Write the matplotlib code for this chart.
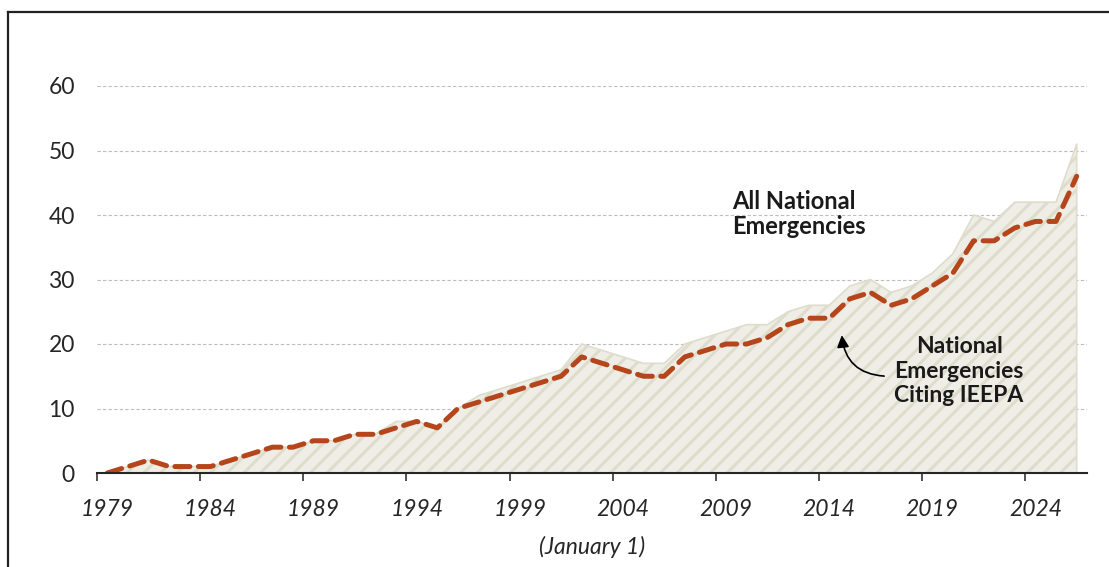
import matplotlib
matplotlib.use("Agg")
import matplotlib.pyplot as plt
import matplotlib.ticker as ticker
from matplotlib.lines import Line2D

plt.rcParams["font.family"] = ["Lato", "DejaVu Sans"]
plt.rcParams["hatch.linewidth"] = 2.2

# Active national emergencies on January 1 of each year
years = list(range(1979, 2027))
all_emergencies = [0, 1, 2, 1, 1, 1, 2, 3, 4, 4, 5, 5, 6, 6, 8, 8, 7, 10, 12, 13,
                   14, 15, 16, 20, 19, 18, 17, 17, 20, 21, 22, 23, 23, 25, 26, 26,
                   29, 30, 28, 29, 31, 34, 40, 39, 42, 42, 42, 51]
ieepa = [0, 1, 2, 1, 1, 1, 2, 3, 4, 4, 5, 5, 6, 6, 7, 8, 7, 10, 11, 12,
         13, 14, 15, 18, 17, 16, 15, 15, 18, 19, 20, 20, 21, 23, 24, 24,
         27, 28, 26, 27, 29, 31, 36, 36, 38, 39, 39, 46]
tick_years = list(range(1979, 2025, 5))
y_ticks = [0, 10, 20, 30, 40, 50, 60]

# points sit in the middle of each year's slot
x = [y + 0.5 for y in years]

fig = plt.figure(figsize=(11.09, 5.67), dpi=100)
ax = fig.add_axes([97 / 1109, 1 - 473 / 567, 990 / 1109, 387 / 567])

ax.fill_between(x, 0, all_emergencies, facecolor="#EFEEE6", edgecolor="#DEDDCD",
                hatch="//", linewidth=1.2, zorder=2)
ax.plot(x, ieepa, color="#B5461C", linewidth=3.6, linestyle=(0, (3, 1.7)),
        dash_capstyle="round", zorder=3)

ax.set_xlim(1979, 2027)
ax.set_ylim(0, 60)

# gridlines
ax.set_yticks(y_ticks)
ax.yaxis.grid(True, color="#BDBDBD", linewidth=0.8, linestyle=(0, (3, 2)))
ax.set_axisbelow(True)
ax.tick_params(axis="y", length=0, pad=16, labelsize=16.5, labelcolor="#262626")

# ticks at year boundaries, labels centred in slot
ax.set_xticks(tick_years)
ax.xaxis.set_major_formatter(ticker.NullFormatter())
ax.set_xticks([t + 0.5 for t in tick_years], minor=True)
ax.set_xticklabels([str(t) for t in tick_years], minor=True, fontstyle="italic")
ax.tick_params(axis="x", which="major", length=6, width=1.2, color="#333333")
ax.tick_params(axis="x", which="minor", length=0, pad=19, labelsize=16.5,
               labelcolor="#262626")
ax.set_xlabel("(January 1)", fontsize=16.5, fontstyle="italic", color="#262626",
              labelpad=11)

for side in ["left", "right", "top"]:
    ax.spines[side].set_visible(False)
ax.spines["bottom"].set_color("#262626")
ax.spines["bottom"].set_linewidth(1.5)
ax.spines["bottom"].set_zorder(4)

ax.text(2009.8, 40.1, "All National\nEmergencies", fontsize=17, fontweight="bold",
        color="#1a1a1a", ha="left", va="center", linespacing=1.1)
ax.text(2020.8, 15.8, "National\nEmergencies\nCiting IEEPA", fontsize=16.5,
        fontweight="bold", color="#1a1a1a", ha="center", va="center",
        linespacing=1.2)
ax.annotate("", xy=(2015.1, 21.8), xytext=(2017.3, 15.0),
            arrowprops=dict(arrowstyle="-|>", color="black", lw=1.2,
                            mutation_scale=18,
                            connectionstyle="arc3,rad=-0.45"))

# frame around the chart (cropped at right and bottom)
fig.add_artist(Line2D([8 / 1109, 8 / 1109], [0, 1 - 12 / 567], color="#222222",
                      linewidth=1.6, transform=fig.transFigure))
fig.add_artist(Line2D([8 / 1109, 1], [1 - 12 / 567, 1 - 12 / 567], color="#222222",
                      linewidth=1.6, transform=fig.transFigure))

fig.savefig("out.png", dpi=100)
plt.close(fig)
